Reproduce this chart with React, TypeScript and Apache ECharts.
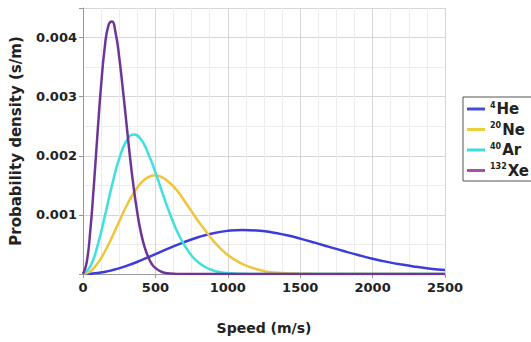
import React, { useEffect, useRef } from "react";
import * as echarts from "echarts";

const heSpeeds = [0, 100, 200, 300, 400, 500, 600, 700, 800, 900, 1000, 1100, 1200, 1300, 1400, 1500, 1600, 1700, 1800, 1900, 2000, 2100, 2200, 2300, 2400, 2500];
const heDensity = [0, 0.000016, 0.000063, 0.000137, 0.00023, 0.000335, 0.000441, 0.00054, 0.000625, 0.00069, 0.00073, 0.000746, 0.000737, 0.000707, 0.000659, 0.000599, 0.000531, 0.000459, 0.000388, 0.000321, 0.000259, 0.000205, 0.000159, 0.000121, 0.00009, 0.000066];

const neSpeeds = [0, 50, 100, 150, 200, 250, 300, 350, 400, 450, 500, 550, 600, 650, 700, 750, 800, 850, 900, 950, 1000, 1050, 1100, 1150, 1200, 1250, 1300, 1400, 1500, 1600, 2500];
const neDensity = [0, 0.000045, 0.000176, 0.000376, 0.000623, 0.000889, 0.00115, 0.00137, 0.00154, 0.00164, 0.00167, 0.00163, 0.00154, 0.00141, 0.00124, 0.00106, 0.00088, 0.00072, 0.00056, 0.00043, 0.00032, 0.00024, 0.00017, 0.00012, 0.00008, 0.00005, 0.00003, 0.000013, 0.000005, 0, 0];

const arSpeeds = [0, 50, 100, 150, 200, 250, 300, 350, 400, 450, 500, 550, 600, 650, 700, 750, 800, 850, 900, 950, 1000, 1100, 1200, 2500];
const arDensity = [0, 0.000127, 0.000477, 0.000971, 0.0015, 0.00195, 0.00225, 0.00236, 0.00228, 0.00204, 0.00172, 0.00136, 0.00102, 0.00072, 0.00049, 0.00031, 0.00019, 0.00011, 0.00006, 0.00003, 0.000016, 0.000004, 0, 0];

const xeSpeeds = [0, 25, 50, 75, 100, 125, 150, 175, 200, 225, 250, 275, 300, 325, 350, 375, 400, 425, 450, 475, 500, 550, 600, 700, 2500];
const xeDensity = [0, 0.00019, 0.00072, 0.0015, 0.00237, 0.00319, 0.00383, 0.0042, 0.00427, 0.00408, 0.00367, 0.00313, 0.00255, 0.00197, 0.00146, 0.00104, 0.0007, 0.00046, 0.00029, 0.00017, 0.0001, 0.00003, 0.00001, 0, 0];

const seriesNames = ["4He", "20Ne", "40Ar", "132Xe"];
const massNumbers = ["4", "20", "40", "132"];
const elements = ["He", "Ne", "Ar", "Xe"];
const lineColors = ["#3c3cdc", "#f0c43c", "#3ee0e0", "#6e3596"];
const legendColors = ["#4a4ad8", "#e8d23c", "#40dada", "#a54fb0"];

const xTicks = { min: 0, max: 2500, interval: 500 };
const yTicks = { min: 0, max: 0.0045, interval: 0.001 };

const zip = (xs: number[], ys: number[]) => xs.map((x, i) => [x, ys[i]]);

export default function App() {
  const ref = useRef<HTMLDivElement>(null);
  useEffect(() => {
    if (!ref.current) return;
    const chart = echarts.init(ref.current, null, { renderer: "svg" });
    const font = "DejaVu Sans";
    const dataSets = [
      zip(heSpeeds, heDensity),
      zip(neSpeeds, neDensity),
      zip(arSpeeds, arDensity),
      zip(xeSpeeds, xeDensity),
    ];
    chart.setOption({
      animation: false,
      backgroundColor: "#ffffff",
      grid: { left: 81, right: 86, top: 8, bottom: 68, containLabel: false },
      legend: {
        orient: "vertical",
        left: 463,
        top: 97,
        padding: [4, 8, 3, 4],
        itemGap: 5,
        itemWidth: 18,
        itemHeight: 3,
        icon: "rect",
        borderColor: "#555555",
        borderWidth: 1,
        backgroundColor: "#ffffff",
        data: seriesNames.map((n, i) => ({ name: n, itemStyle: { color: legendColors[i] } })),
        formatter: (name: string) => {
          const i = seriesNames.indexOf(name);
          return `{sup|${massNumbers[i]}}{main|${elements[i]}}`;
        },
        textStyle: {
          fontFamily: font,
          rich: {
            sup: { fontSize: 8, fontWeight: "bold", color: "#222", fontFamily: font, padding: [0, 1, 8, 0] },
            main: { fontSize: 15, fontWeight: "bold", color: "#222", fontFamily: font },
          },
        },
      },
      xAxis: {
        type: "value",
        ...xTicks,
        name: "Speed (m/s)",
        nameLocation: "middle",
        nameGap: 47,
        nameTextStyle: { fontFamily: font, fontSize: 14, fontWeight: "bold", color: "#222" },
        axisLine: { show: true, lineStyle: { color: "#999", width: 1 } },
        axisTick: { show: true, length: 4, lineStyle: { color: "#999" } },
        axisLabel: {
          fontFamily: font,
          fontSize: 13,
          fontWeight: "bold",
          color: "#222",
          margin: 7,
          formatter: (v: number) => String(v),
        },
        splitLine: { show: true, lineStyle: { color: "#d6d6d6", width: 1 } },
        minorTick: { show: true, splitNumber: 4, length: 0 },
        minorSplitLine: { show: true, lineStyle: { color: "#ededed", width: 1 } },
      },
      yAxis: {
        type: "value",
        ...yTicks,
        name: "Probability density (s/m)",
        nameLocation: "middle",
        nameGap: 60,
        nameTextStyle: { fontFamily: font, fontSize: 15, fontWeight: "bold", color: "#222" },
        axisLine: { show: true, lineStyle: { color: "#999", width: 1 } },
        axisTick: { show: true, length: 4, lineStyle: { color: "#999" } },
        axisLabel: {
          fontFamily: font,
          fontSize: 13,
          fontWeight: "bold",
          color: "#222",
          margin: 6,
          showMaxLabel: false,
          formatter: (v: number) => (v === 0 ? "" : v.toFixed(3)),
        },
        splitLine: { show: true, lineStyle: { color: "#d6d6d6", width: 1 } },
        minorTick: { show: true, splitNumber: 2, length: 0 },
        minorSplitLine: { show: true, lineStyle: { color: "#ededed", width: 1 } },
      },
      series: seriesNames.map((n, i) => ({
        name: n,
        type: "line",
        data: dataSets[i],
        showSymbol: false,
        smooth: true,
        lineStyle: { color: lineColors[i], width: 2.5 },
        itemStyle: { color: lineColors[i] },
        z: 2 + i,
      })),
    });
    return () => chart.dispose();
  }, []);
  return (
    <div
      ref={ref}
      style={{ position: "fixed", left: 0, top: 0, width: 531, height: 342, background: "#fff" }}
    />
  );
}
